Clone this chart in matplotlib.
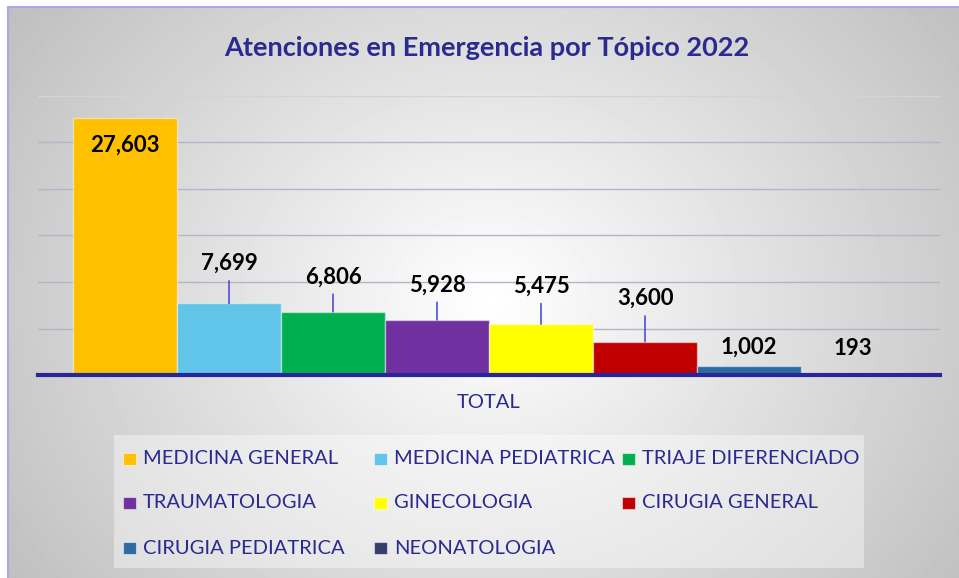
import numpy as np
import matplotlib.pyplot as plt
from matplotlib.patches import Rectangle
from matplotlib.lines import Line2D

# Data
topicos = ["MEDICINA GENERAL", "MEDICINA PEDIATRICA", "TRIAJE DIFERENCIADO",
           "TRAUMATOLOGIA", "GINECOLOGIA", "CIRUGIA GENERAL",
           "CIRUGIA PEDIATRICA", "NEONATOLOGIA"]
atenciones = [27603, 7699, 6806, 5928, 5475, 3600, 1002, 193]
categoria = ["TOTAL"]
colores = ["#FFC000", "#61C5EA", "#00B050", "#7030A0",
           "#FFFF00", "#C00000", "#2E6BA3", "#34406B"]

# where the value labels sit, pixels above the bar top (negative = inside)
label_lift = [-27, 40, 35, 35, 38, 43, 18, 25]

W, H = 959, 578
NAVY = "#2A2A90"
FONT = ["Lato", "DejaVu Sans"]


def fx(px):
    return px / W


def fy(py):
    return 1 - py / H


fig = plt.figure(figsize=(W / 100, H / 100), dpi=100)

# radial grey-to-white background like the Excel chart area
bg = fig.add_axes([fx(8), 0, 1 - fx(8), fy(7)])
gx, gy = np.meshgrid(np.arange(8, W), np.arange(7, H))
r = np.sqrt(((gx - 490) / 560.0) ** 2 + ((gy - 300) / 480.0) ** 2)
shade = np.clip(1.0 - 0.24 * r, 0, 1)
bg.imshow(shade, cmap="gray", vmin=0, vmax=1, aspect="auto",
          interpolation="bilinear")
bg.axis("off")

# thin border at top and left
fig.add_artist(Line2D([fx(8), 1], [fy(7), fy(7)], transform=fig.transFigure,
                      color="#A9A9EC", lw=1.5))
fig.add_artist(Line2D([fx(8), fx(8)], [0, fy(7)], transform=fig.transFigure,
                      color="#A9A9EC", lw=1.5))

# plot area
ax = fig.add_axes([fx(38), fy(375), fx(940) - fx(38), fy(96) - fy(375)])
ax.patch.set_alpha(0)
ax.set_xlim(-0.5, 0.5)
ax.set_ylim(0, 30000)

n = len(atenciones)
bw = 104 / 902
x0 = -n * bw / 2
for i, (t, v, c) in enumerate(zip(topicos, atenciones, colores)):
    xc = x0 + bw * (i + 0.5)
    ax.bar(xc, v, width=bw, color=c, edgecolor=(1, 1, 1, 0.45),
           linewidth=1, label=t, zorder=2)
    lift = label_lift[i]
    arrow = None
    if lift > 30:
        arrow = dict(arrowstyle="-", color="#4F4FD8", lw=1.2,
                     shrinkA=3, shrinkB=0)
    ax.annotate(f"{v:,}", xy=(xc, v), xytext=(0, lift),
                textcoords="offset pixels", ha="center", va="center",
                fontsize=16, fontweight="bold", family=FONT, color="black",
                arrowprops=arrow, zorder=4)

ax.set_yticks(np.arange(0, 30001, 5000))
ax.yaxis.grid(True, color="#B4B4CA", lw=1)
ax.get_ygridlines()[-1].set_color("#D4D4D4")
ax.set_axisbelow(True)
ax.tick_params(axis="y", left=False, labelleft=False)
for s in ax.spines.values():
    s.set_visible(False)
ax.axhline(0, color="#27279A", lw=3, zorder=3, clip_on=False)

ax.set_xticks([0])
ax.set_xticklabels(categoria, color=NAVY, fontsize=14.5, family=FONT)
ax.tick_params(axis="x", length=0, pad=14)

# title
fig.text(fx(487), fy(48), "Atenciones en Emergencia por Tópico 2022",
         ha="center", va="center", fontsize=19.5, fontweight="bold",
         color=NAVY, family=FONT)

# legend box, laid out on a fixed 3-column grid like Excel does
fig.add_artist(Rectangle((fx(114), fy(568)), fx(864) - fx(114),
                         fy(435) - fy(568), transform=fig.transFigure,
                         facecolor="white", alpha=0.4, edgecolor="none"))
col_x = [123, 374, 622]
row_y = [459, 503, 548]
for i, (t, c) in enumerate(zip(topicos, colores)):
    px, py = col_x[i % 3], row_y[i // 3]
    fig.add_artist(Rectangle((fx(px), fy(py + 6)), 13 / W, 12 / H,
                             transform=fig.transFigure, facecolor=c,
                             edgecolor=(1, 1, 1, 0.5), lw=0.8))
    fig.text(fx(px + 20), fy(py), t, ha="left", va="center",
             fontsize=14.5, color=NAVY, family=FONT)

fig.savefig("out.png", dpi=100)
